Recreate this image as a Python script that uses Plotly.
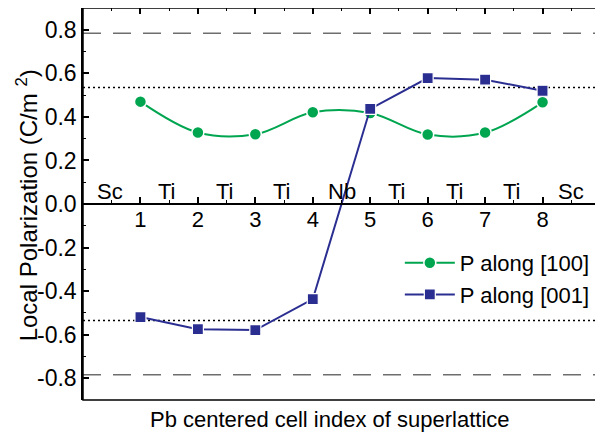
import plotly.graph_objects as go

cells = [1, 2, 3, 4, 5, 6, 7, 8]
p100 = [0.470, 0.328, 0.320, 0.421, 0.418, 0.319, 0.328, 0.467]
p001 = [-0.519, -0.575, -0.579, -0.437, 0.437, 0.578, 0.571, 0.520]
site_labels = ["Sc", "Ti", "Ti", "Ti", "Nb", "Ti", "Ti", "Ti", "Sc"]
site_pos = [0.47, 1.47, 2.47, 3.47, 4.5, 5.47, 6.47, 7.47, 8.5]
ytick_vals = [-0.8, -0.6, -0.4, -0.2, 0.0, 0.2, 0.4, 0.6, 0.8]
ytick_text = ["-0.8", "-0.6", "-0.4", "-0.2", "0.0", "0.2", "0.4", "0.6", "0.8"]
dashed_level = 0.784
dotted_level = 0.535

FONT = "Liberation Sans, Arial, sans-serif"
GREEN = "rgb(0,165,80)"
BLUE = "rgb(43,46,145)"

fig = go.Figure()
fig.add_trace(go.Scatter(
    x=cells, y=p100, name="P along [100]", mode="lines+markers",
    line=dict(color=GREEN, width=2, shape="spline"),
    marker=dict(symbol="circle", size=12, color=GREEN, line=dict(color="white", width=1.5)),
))
fig.add_trace(go.Scatter(
    x=cells, y=p001, name="P along [001]", mode="lines+markers",
    line=dict(color=BLUE, width=2),
    marker=dict(symbol="square", size=11, color=BLUE, line=dict(color="white", width=1.2)),
))

# reference lines
for lvl in (dashed_level, -dashed_level):
    fig.add_shape(type="line", xref="paper", x0=0, x1=1, yref="y", y0=lvl, y1=lvl,
                  line=dict(color="rgb(110,110,110)", width=1.5, dash="18px,12px"), layer="below")
for lvl in (dotted_level, -dotted_level):
    fig.add_shape(type="line", xref="paper", x0=0, x1=1, yref="y", y0=lvl, y1=lvl,
                  line=dict(color="black", width=1.5, dash="2px,3px"), layer="below")

# frame
fig.add_shape(type="rect", xref="paper", yref="paper", x0=0, x1=1, y0=0, y1=1,
              line=dict(color="black", width=1.5))

for lab, xp in zip(site_labels, site_pos):
    fig.add_annotation(x=xp, y=0.058, xref="x", yref="y", text=lab, showarrow=False,
                       font=dict(family=FONT, size=22, color="black"),
                       xanchor="center", yanchor="middle")

fig.add_annotation(x=0.478, y=-0.05, xref="paper", yref="paper",
                   text="Pb centered cell index of superlattice", showarrow=False,
                   font=dict(family=FONT, size=22, color="black"),
                   xanchor="center", yanchor="middle")
fig.add_annotation(x=-0.108, y=0.497, xref="paper", yref="paper", textangle=-90,
                   text="Local Polarization (C/m <sup>2</sup>)", showarrow=False,
                   font=dict(family=FONT, size=24, color="black"),
                   xanchor="center", yanchor="middle")

fig.update_layout(
    width=595, height=424,
    margin=dict(l=75, r=3, t=0, b=32, autoexpand=False),
    paper_bgcolor="white", plot_bgcolor="white",
    showlegend=True,
    legend=dict(x=0.99, y=0.403, xanchor="right", yanchor="top",
                bgcolor="rgba(0,0,0,0)", font=dict(family=FONT, size=22, color="black"),
                tracegroupgap=0, itemwidth=50),
    xaxis=dict(range=[0, 9], anchor="free", position=0.5, tickvals=cells,
               ticks="inside", ticklen=6, tickwidth=1.5, tickcolor="black",
               showline=True, linecolor="black", linewidth=1.5, showgrid=False, zeroline=False,
               tickfont=dict(family=FONT, size=22, color="black"), ticklabelstandoff=-4,
               minor=dict(tickvals=[0.5, 1.5, 2.5, 3.5, 4.5, 5.5, 6.5, 7.5, 8.5],
                          ticks="inside", ticklen=3, tickwidth=1.2, tickcolor="black")),
    xaxis2=dict(range=[0, 9], overlaying="x", side="top", tickvals=cells,
                ticks="inside", ticklen=6, tickwidth=1.5, tickcolor="black",
                showticklabels=False, showgrid=False, zeroline=False, showline=False,
                minor=dict(tickvals=[0.5, 1.5, 2.5, 3.5, 4.5, 5.5, 6.5, 7.5, 8.5],
                           ticks="inside", ticklen=3, tickwidth=1.2, tickcolor="black")),
    yaxis=dict(range=[-0.9, 0.9], tickvals=ytick_vals, ticktext=ytick_text,
               ticks="inside", ticklen=6, tickwidth=1.5, tickcolor="black",
               showline=True, linecolor="black", linewidth=1.5, showgrid=False, zeroline=False,
               tickfont=dict(family=FONT, size=23, color="black"),
               minor=dict(dtick=0.1, tick0=0.1, ticks="inside", ticklen=3, tickwidth=1.2,
                          tickcolor="black")),
)
# invisible trace to activate the top axis
fig.add_trace(go.Scatter(x=[0], y=[0], xaxis="x2", mode="markers",
                         marker=dict(opacity=0), showlegend=False, hoverinfo="skip"))

fig.write_html("out.html")
